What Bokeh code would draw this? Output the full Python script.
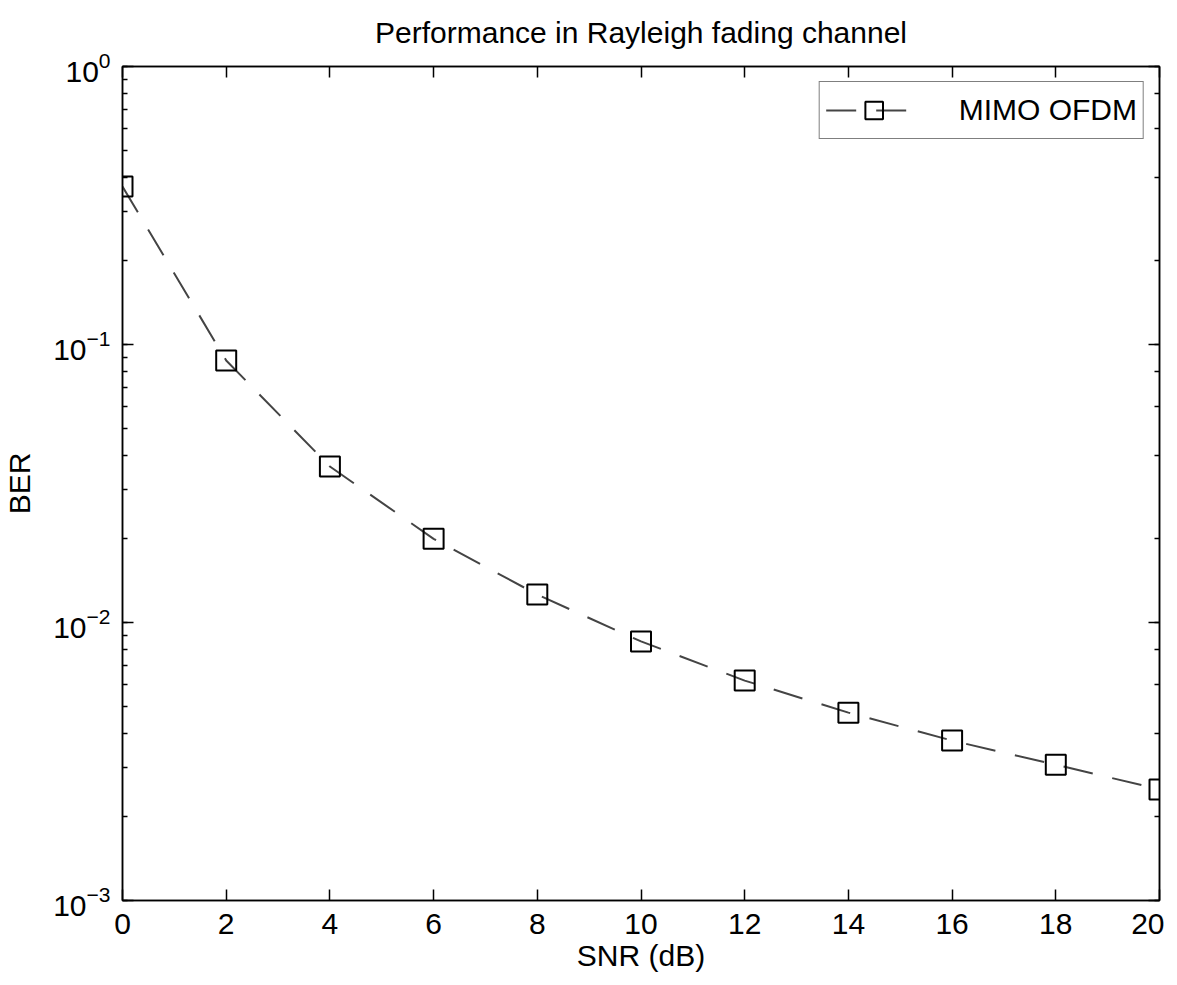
from bokeh.plotting import figure
from bokeh.models import LinearAxis, LogAxis, FixedTicker, Range1d, Legend, LegendItem, CustomJSTickFormatter
from bokeh.embed import file_html
from bokeh.resources import INLINE

# Data
snr_db = [0, 2, 4, 6, 8, 10, 12, 14, 16, 18, 20]
ber = [0.37, 0.0876, 0.0364, 0.0200, 0.0126, 0.00855, 0.00618, 0.00474, 0.00376, 0.00308, 0.00251]
x_ticks = [0, 2, 4, 6, 8, 10, 12, 14, 16, 18, 20]
series_name = "MIMO OFDM"
title_text = "Performance in Rayleigh fading channel"
x_label = "SNR (dB)"
y_label = "BER"

FONT = "Liberation Sans"
FS = "30px"

p = figure(frame_width=1037, frame_height=834, y_axis_type="log",
           x_range=Range1d(0, 20), y_range=Range1d(1e-3, 1),
           output_backend="svg", toolbar_location=None,
           min_border_left=114, min_border_top=59, min_border_right=5, min_border_bottom=60)

p.title.text = title_text
p.title.align = "center"
p.title.vertical_align = "top"
p.title.text_font = FONT
p.title.text_font_size = FS
p.title.text_font_style = "normal"
p.title.text_color = "black"
p.title.standoff = 31

p.xgrid.visible = False
p.ygrid.visible = False
p.outline_line_color = "black"
p.outline_line_width = 1.5
p.background_fill_color = "white"
p.border_fill_color = "white"

def style_axis(ax, labels=True):
    ax.axis_line_color = "black"
    ax.axis_line_width = 1.5
    ax.major_tick_line_color = "black"
    ax.major_tick_line_width = 1.5
    ax.minor_tick_line_color = "black"
    ax.minor_tick_line_width = 1.5
    ax.major_tick_in = 11
    ax.major_tick_out = 0
    ax.minor_tick_in = 5
    ax.minor_tick_out = 0
    ax.major_label_text_font = FONT
    ax.major_label_text_color = "black"
    ax.major_label_text_font_size = FS
    if not labels:
        ax.formatter = CustomJSTickFormatter(code="return '';")
        ax.major_label_standoff = 0

xt = FixedTicker(ticks=x_ticks)
p.xaxis.ticker = xt
for ax in p.xaxis:
    style_axis(ax)
    ax.minor_tick_line_color = None
    ax.major_label_standoff = 13
    ax.axis_label = x_label
    ax.axis_label_text_font = FONT
    ax.axis_label_text_font_size = FS
    ax.axis_label_text_font_style = "normal"
    ax.axis_label_text_color = "black"
    ax.axis_label_standoff = 2

for ax in p.yaxis:
    style_axis(ax)
    ax.major_label_standoff = 12
    ax.axis_label = y_label
    ax.axis_label_text_font = FONT
    ax.axis_label_text_font_size = FS
    ax.axis_label_text_font_style = "normal"
    ax.axis_label_text_color = "black"
    ax.axis_label_standoff = 14

top = LinearAxis(ticker=FixedTicker(ticks=x_ticks))
style_axis(top, labels=False)
top.minor_tick_line_color = None
p.add_layout(top, "above")

right = LogAxis()
style_axis(right, labels=False)
p.add_layout(right, "right")

line = p.line(snr_db, ber, line_color="#444444", line_width=2, line_dash="30 20")
marks = p.scatter(snr_db, ber, marker="square", size=20, line_color="black",
                  line_width=2, fill_color=None)

legend = Legend(items=[LegendItem(label=series_name, renderers=[line, marks])],
                location="top_right")
legend.label_text_font = FONT
legend.label_text_font_size = FS
legend.label_text_color = "black"
legend.border_line_color = "black"
legend.border_line_width = 1.5
legend.glyph_width = 96
legend.glyph_height = 44
legend.label_height = 30
legend.label_standoff = 37
legend.padding = 6
legend.margin = 15
legend.spacing = 0
legend.background_fill_alpha = 1
p.add_layout(legend, "center")

open("out.html", "w").write(file_html(p, INLINE))
